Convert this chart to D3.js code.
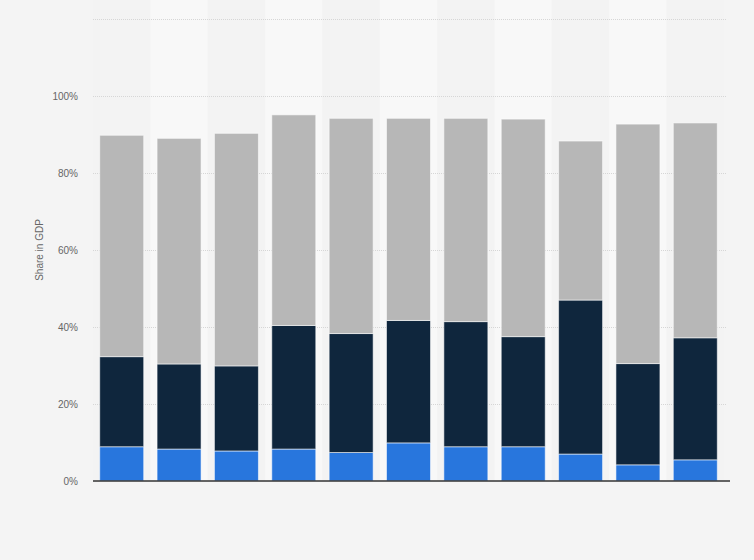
<!DOCTYPE html>
<html>
<head>
<meta charset="utf-8">
<script src="https://cdn.jsdelivr.net/npm/d3@7"></script>
<style>
  html, body { margin: 0; padding: 0; background: #f4f4f4; }
  svg { display: block; }
  text { font-family: "Liberation Sans", Arial, sans-serif; }
</style>
</head>
<body>
<svg id="chart" width="754" height="560"></svg>
<script>
const categories = ["2010", "2011", "2012", "2013", "2014", "2015", "2016", "2017", "2018", "2019", "2020"];
const seriesBlue = [8.9, 8.3, 7.8, 8.3, 7.4, 9.9, 8.9, 8.9, 7.0, 4.2, 5.5];
const seriesNavy = [23.4, 22.1, 22.1, 32.1, 30.9, 31.8, 32.5, 28.6, 40.0, 26.3, 31.7];
const seriesGray = [57.5, 58.6, 60.4, 54.7, 55.9, 52.5, 52.8, 56.5, 41.3, 62.2, 55.8];
const yTicks = [0, 20, 40, 60, 80, 100, 120];
const yTickLabels = ["0%", "20%", "40%", "60%", "80%", "100%", ""];
const seriesKeys = ["blue", "navy", "gray"];
const colors = { blue: "#2876dd", navy: "#0f263d", gray: "#b7b7b7" };

const table = categories.map((c, i) => ({ cat: c, blue: seriesBlue[i], navy: seriesNavy[i], gray: seriesGray[i] }));

const svg = d3.select("#chart");
const margin = { left: 93, right: 30, top: 19, bottom: 79 };
const W = 754, H = 560;

const x = d3.scaleBand().domain(categories).range([93, 724]).paddingInner(0.233).paddingOuter(0.117);
const y = d3.scaleLinear().domain([0, 120]).range([481, 19]);

// alternating column backgrounds
const step = x.step();
svg.append("g").selectAll("rect").data(categories).join("rect")
  .attr("x", d => x(d) - step * x.paddingInner() / 2)
  .attr("y", 0)
  .attr("width", step)
  .attr("height", 481)
  .attr("fill", (d, i) => i % 2 === 1 ? "#f8f8f8" : "#f3f3f3");

// gridlines
svg.append("g").selectAll("line").data(yTicks.filter(t => t > 0)).join("line")
  .attr("x1", 93).attr("x2", 726)
  .attr("y1", d => Math.round(y(d)) + 0.5).attr("y2", d => Math.round(y(d)) + 0.5)
  .attr("stroke", "#d6d6d6").attr("stroke-width", 1)
  .attr("stroke-dasharray", "1,1");

// y axis labels
const yAxis = d3.axisLeft(y).tickValues(yTicks).tickFormat((d, i) => yTickLabels[i]).tickSize(0).tickPadding(0);
const gy = svg.append("g").attr("transform", "translate(78,0)").call(yAxis);
gy.select(".domain").remove();
gy.selectAll("text").attr("fill", "#666").attr("font-size", "10px");

// stacked bars
const stack = d3.stack().keys(seriesKeys);
const stacked = stack(table);
svg.append("g").selectAll("g").data(stacked).join("g")
  .attr("fill", d => colors[d.key])
  .selectAll("rect").data(d => d).join("rect")
  .attr("x", d => x(d.data.cat))
  .attr("width", x.bandwidth())
  .attr("y", d => y(d[1]))
  .attr("height", d => y(d[0]) - y(d[1]))
  .attr("stroke", "rgba(255,255,255,0.55)")
  .attr("stroke-width", 1);

// x axis line
const xAxis = d3.axisBottom(x).tickSize(0).tickFormat("");
const gx = svg.append("g").attr("transform", "translate(0,481)").call(xAxis);
gx.select(".domain").attr("stroke", "#333").attr("stroke-width", 1.5).attr("d", "M93,0H730");

// y axis title
svg.append("text")
  .attr("transform", "translate(43,250) rotate(-90)")
  .attr("text-anchor", "middle")
  .attr("fill", "#666")
  .attr("font-size", "10px")
  .text("Share in GDP");
</script>
</body>
</html>
